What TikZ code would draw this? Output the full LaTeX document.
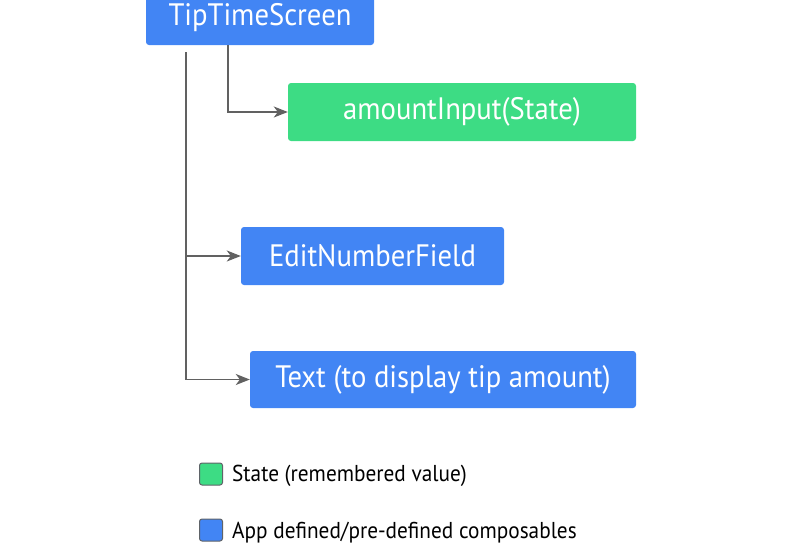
\documentclass[tikz,border=0pt]{standalone}
\usepackage{fontspec}
\usepackage{graphicx}
\setmainfont{PT Sans}
\usetikzlibrary{arrows.meta}
\definecolor{gblue}{HTML}{4285F4}
\definecolor{ggreen}{HTML}{3DDC84}
\definecolor{gline}{HTML}{616161}
\definecolor{gborder}{HTML}{5F6368}
\newcommand{\condtxt}[1]{\scalebox{0.925}[1]{#1}}
\tikzset{
  box/.style={rounded corners=3pt, inner sep=0pt, text=white, font=\fontsize{31}{34}\selectfont},
  bluebox/.style={box, fill=gblue},
  greenbox/.style={box, fill=ggreen},
  conn/.style={draw=gline, line width=1.4pt, -{Stealth[length=14pt,width=11pt,inset=4pt]}},
  trunk/.style={draw=gline, line width=1.4pt},
  legsq/.style={draw=gborder, line width=1pt, rounded corners=2.5pt, minimum width=23pt, minimum height=22pt, inner sep=0pt},
  legtxt/.style={anchor=west, inner sep=0pt, font=\fontsize{23}{26}\selectfont, text=black}
}
\begin{document}
\begin{tikzpicture}[x=1pt,y=-1pt]
\useasboundingbox (0,0) rectangle (798,555);
\clip (0,0) rectangle (798,555);
\node[bluebox, minimum width=228pt, minimum height=55pt] (top) at (260,17.5) {\condtxt{TipTimeScreen}};
\node[greenbox, minimum width=348pt, minimum height=58pt] (amount) at (462,112) {\condtxt{amountInput(State)}};
\node[bluebox, minimum width=263pt, minimum height=58pt] (edit) at (372.5,256) {\condtxt{EditNumberField}};
\node[bluebox, minimum width=386pt, minimum height=57pt] (text) at (443,379.5) {\condtxt{Text (to display tip amount)}};
\coordinate (t0) at (186,52);
\coordinate (a0) at (228,45);
\draw[conn] (a0) |- (amount.west);
\draw[trunk] (t0) -- (t0 |- text.west);
\draw[conn] (t0 |- edit.west) -- (edit.west);
\draw[conn] (t0 |- text.west) -- (text.west);
\node[legsq, fill=ggreen] (lg1) at (211,474) {};
\node[legtxt] (lt1) at (232,476) {\condtxt{State (remembered value)}};
\node[legsq, fill=gblue] (lg2) at (211,530) {};
\node[legtxt] (lt2) at (232,533) {\condtxt{App defined/pre-defined composables}};
\end{tikzpicture}
\end{document}
